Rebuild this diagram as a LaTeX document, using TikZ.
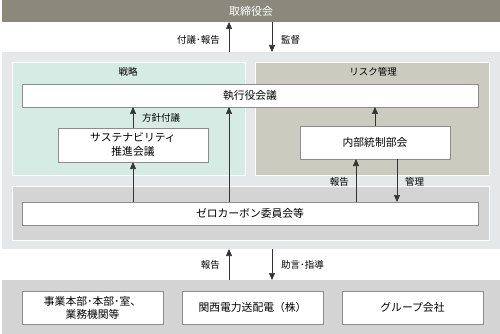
\documentclass[tikz,border=0pt]{standalone}
\usepackage{fontspec}
\setmainfont{Noto Sans CJK JP}
\usepackage{xcolor}
\usetikzlibrary{arrows.meta}

\definecolor{boardgray}{HTML}{8B897C}
\definecolor{hubgray}{HTML}{E6E7E8}
\definecolor{stratgreen}{HTML}{D5EBE4}
\definecolor{riskkhaki}{HTML}{CCCBBF}
\definecolor{zonegray}{HTML}{D4D4D4}
\definecolor{edgegray}{HTML}{8C8C8C}

\begin{document}
\begin{tikzpicture}[
  x=1pt, y=-1pt,
  font=\fontsize{10.8}{14}\selectfont,
  panel/.style ={anchor=north west, inner sep=0pt, outer sep=0pt},
  area/.style  ={panel, draw=white, line width=0.8pt},
  box/.style   ={panel, draw=edgegray, fill=white, align=center},
  lbl/.style   ={font=\fontsize{9.5}{11}\selectfont, inner sep=1pt},
  ar/.style    ={-{Triangle[length=7pt, width=6pt]}, draw=black!80, line width=0.6pt}
]
\useasboundingbox (0,0) rectangle (500,334);

% outer bands
\node[panel, fill=boardgray, minimum width=498, minimum height=22,
      text=white, font=\fontsize{11}{12}\selectfont] (board) at (2,0) {取締役会};
\node[panel, fill=hubgray, minimum width=498, minimum height=197] (hub) at (2,52) {};
\node[panel, fill=zonegray, minimum width=498, minimum height=54] (base) at (2,280) {};

% inner areas
\node[area, fill=stratgreen, minimum width=233, minimum height=113] (strat) at (12,62) {};
\node[area, fill=riskkhaki, minimum width=234, minimum height=113] (risk) at (255,62) {};
\node[area, fill=zonegray, minimum width=477, minimum height=54] (zone) at (12,186) {};
\node[lbl] (stratlbl) at (128,72) {戦略};
\node[lbl] (risklbl) at (373,72) {リスク管理};

% committees
\node[box, minimum width=456, minimum height=23] (exec) at (22,84) {執行役会議};
\node[box, minimum width=150, minimum height=34] (sust) at (58,128)
  {サステナビリティ\\推進会議};
\node[box, minimum width=150, minimum height=33] (ctrl) at (300,126) {内部統制部会};
\node[box, minimum width=456, minimum height=23] (zero) at (22,202) {ゼロカーボン委員会等};

% bottom units
\node[box, minimum width=141, minimum height=33, font=\fontsize{10.8}{13}\selectfont]
  (units) at (22,291) {事業本部･本部･室、\\業務機関等};
\node[box, minimum width=141, minimum height=33] (tdco) at (182,291) {関西電力送配電（株）};
\node[box, minimum width=141, minimum height=33] (group) at (342,291) {グループ会社};

\coordinate (upx) at (229,0);
\coordinate (downx) at (272,0);
\coordinate (repx) at (356,0);
\coordinate (mngx) at (397,0);

\draw[ar] (upx |- hub.north) -- (upx |- board.south);
\draw[ar] (downx |- board.south) -- (downx |- hub.north);
\node[lbl, anchor=east] at (221,40) {付議･報告};
\node[lbl, anchor=west] at (280,40) {監督};

\draw[ar] (sust.north) -- (sust.north |- exec.south);
\node[lbl, anchor=west] at (141,118) {方針付議};
\draw[ar] (ctrl.north) -- (ctrl.north |- exec.south);
\draw[ar] (sust.south |- zero.north) -- (sust.south);
\draw[ar] (upx |- zero.north) -- (upx |- exec.south);
\draw[ar] (repx |- zero.north) -- (repx |- ctrl.south);
\draw[ar] (mngx |- ctrl.south) -- (mngx |- zero.north);
\node[lbl, anchor=east] at (350,182) {報告};
\node[lbl, anchor=west] at (404,182) {管理};

\draw[ar] (upx |- base.north) -- (upx |- hub.south);
\draw[ar] (downx |- hub.south) -- (downx |- base.north);
\node[lbl, anchor=east] at (221,265) {報告};
\node[lbl, anchor=west] at (280,265) {助言･指導};

\end{tikzpicture}
\end{document}
